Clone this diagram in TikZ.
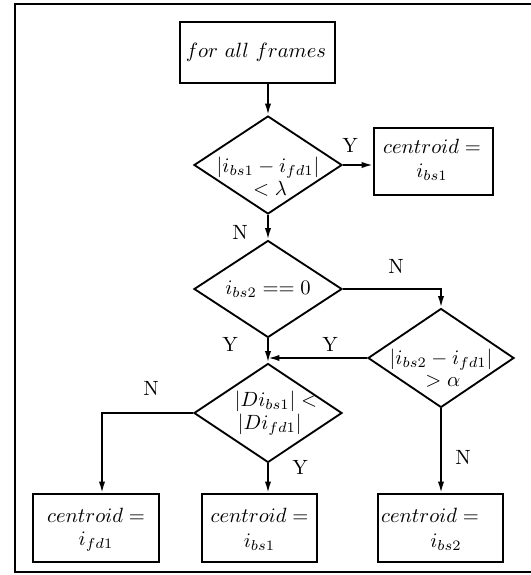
\documentclass[tikz,border=0pt]{standalone}
\usetikzlibrary{shapes.geometric,arrows.meta}
\newlength\pxu
\setlength\pxu{0.485pt}
\begin{document}
\begin{tikzpicture}[x=\pxu,y=-\pxu,
  line width=0.9pt,
  procbox/.style={draw,rectangle,inner sep=0pt},
  decision/.style={draw,diamond,inner sep=0pt},
  flow/.style={-{Latex[length=5.5pt,width=3pt]}},
  txt/.style={inner sep=0pt},
  yn/.style={inner sep=0pt}]
  \useasboundingbox (0,0) rectangle (530,575);
  % surrounding frame (right side runs off the page)
  \draw (531,4) -- (15,4) -- (15,572) -- (531,572);

  % process boxes
  \node[procbox,minimum width=155\pxu,minimum height=61\pxu] (start) at (257.5,52.5) {};
  \node[procbox,minimum width=119\pxu,minimum height=67\pxu] (b1) at (433.5,161.5) {};
  \node[procbox,minimum width=126\pxu,minimum height=68\pxu] (bl) at (96,528) {};
  \node[procbox,minimum width=115\pxu,minimum height=68\pxu] (bm) at (259.5,528) {};
  \node[procbox,minimum width=125\pxu,minimum height=68\pxu] (br) at (440.5,528) {};

  \node[txt] (ts) at (256,52) {\(for\ all\ frames\)};
  \node[txt] (tb1a) at (432,146) {\(centroid =\)};
  \node[txt] (tb1b) at (432,172) {\(i_{bs1}\)};
  \node[txt] (tbla) at (96,515) {\(centroid =\)};
  \node[txt] (tblb) at (96,542) {\(i_{fd1}\)};
  \node[txt] (tbma) at (259.5,515) {\(centroid =\)};
  \node[txt] (tbmb) at (259.5,542) {\(i_{bs1}\)};
  \node[txt] (tbra) at (430,515) {\(centroid =\)};
  \node[txt] (tbrb) at (446,542) {\(i_{bs2}\)};

  % decisions
  \node[decision,minimum width=148\pxu,minimum height=98\pxu] (d1) at (268,165) {};
  \node[decision,minimum width=148\pxu,minimum height=97\pxu] (d2) at (268,289) {};
  \node[decision,minimum width=146\pxu,minimum height=99\pxu] (d3) at (441,358) {};
  \node[decision,minimum width=148\pxu,minimum height=99\pxu] (d4) at (268,413) {};

  \node[txt] (t1a) at (268,168) {\(\left|i_{bs1}-i_{fd1}\right|\)};
  \node[txt] (t1b) at (270,189) {\(<\lambda\)};
  \node[txt] (t2) at (268,289) {\(i_{bs2} == 0\)};
  \node[txt] (t3a) at (441,360) {\(\left|i_{bs2}-i_{fd1}\right|\)};
  \node[txt] (t3b) at (443,381) {\(>\alpha\)};
  \node[txt,anchor=west] (t4a) at (234,401) {\(|Di_{bs1}| <\)};
  \node[txt,anchor=west] (t4b) at (237,425) {\(|Di_{fd1}|\)};

  % connectors
  \draw[flow] (start.south -| d1.north) -- (d1.north);
  \draw[flow] (d1.east) -- (d1.east -| b1.west);
  \draw[flow] (d1.south) -- (d2.north);
  \draw[flow] (d2.east) -| (d3.north);
  \draw[flow] (d2.south) -- (d4.north);
  \draw[flow] (d3.west) -- (d3.west -| d4.north);
  \coordinate (lx) at (102,413);
  \draw[flow] (d4.west) -- (lx) -- (lx |- bl.north);
  \draw[flow] (d4.south) -- (d4.south |- bm.north);
  \draw[flow] (d3.south) -- (d3.south |- br.north);

  % branch labels
  \node[yn] (y1) at (350,145) {Y};
  \node[yn] (n1) at (240,232) {N};
  \node[yn] (n2) at (396,266) {N};
  \node[yn] (y2) at (230,344) {Y};
  \node[yn] (y3) at (330,344) {Y};
  \node[yn] (n3) at (151,388) {N};
  \node[yn] (y4) at (300,467) {Y};
  \node[yn] (n4) at (463,457) {N};
\end{tikzpicture}
\end{document}
